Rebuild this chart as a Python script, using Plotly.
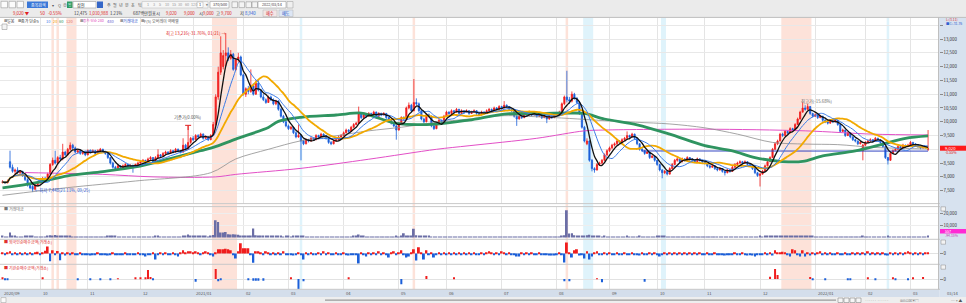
import pandas as pd
import plotly.graph_objects as go

W, H = 966, 303
FONT = "Noto Sans CJK KR, Noto Sans, DejaVu Sans, sans-serif"
UP = "#f01d1d"
DN = "#1b5fd9"

# ---------------- data ----------------
holidays = ["2020-09-30", "2020-10-01", "2020-10-02", "2020-10-09", "2020-12-25", "2020-12-31",
            "2021-01-01", "2021-02-11", "2021-02-12", "2021-03-01", "2021-05-05", "2021-05-19",
            "2021-08-16", "2021-09-20", "2021-09-21", "2021-09-22", "2021-10-04", "2021-10-11",
            "2021-12-31", "2022-01-31", "2022-02-01", "2022-02-02", "2022-03-01", "2022-03-09"]
dates = [d for d in pd.bdate_range("2020-09-09", "2022-03-14") if d.strftime("%Y-%m-%d") not in holidays]

opens = [
    7800, 7820, 7780, 8550, 8350, 8200, 8250, 8150, 8200, 8050,
    7900, 7700, 7650, 7550, 7700, 7800, 7850, 7950, 7900, 8100,
    8450, 8600, 8500, 8700, 8650, 8900, 8800, 9000, 9150, 9050,
    8900, 8950, 8850, 8900, 8800, 8950, 8900, 8950, 8850, 8950,
    9000, 8900, 8850, 8700, 8500, 8350, 8300, 8400, 8350, 8400,
    8450, 8380, 8420, 8350, 8450, 8500, 8550, 8600, 8500, 8650,
    8700, 8550, 8700, 8800, 8750, 8850, 8900, 8850, 8950, 8900,
    9000, 8950, 8900, 9150, 9000, 9250, 9400, 9350, 9500, 9450,
    9550, 9400, 9450, 9350, 9500, 9900, 10900, 11800, 12000, 12400,
    12500, 12300, 12450, 11900, 12250, 12350, 11700, 11000, 11200, 11100,
    11300, 11000, 11400, 11150, 10900, 10800, 10700, 10900, 10800, 10650,
    10750, 10450, 10200, 10000, 9850, 9750, 9800, 9600, 9450, 9500,
    9300, 9200, 9350, 9300, 9400, 9350, 9500, 9450, 9550, 9500,
    9400, 9250, 9200, 9300, 9350, 9450, 9500, 9600, 9700, 9650,
    9800, 9900, 9950, 10300, 10150, 10250, 10200, 10300, 10250, 10350,
    10200, 10300, 10250, 10300, 10150, 10050, 9950, 9850, 9700, 9950,
    10150, 10100, 10500, 10600, 10400, 10700, 10650, 10400, 10100, 10000,
    10250, 10200, 9850, 9750, 9900, 10050, 10000, 10200, 10350, 10300,
    10400, 10350, 10450, 10300, 10400, 10350, 10400, 10300, 10350, 10400,
    10300, 10250, 10350, 10300, 10400, 10450, 10400, 10500, 10450, 10550,
    10500, 10600, 10550, 10450, 10400, 10200, 10100, 10200, 10150, 10300,
    10250, 10350, 10250, 10300, 10200, 10250, 10150, 10200, 10100, 10200,
    10150, 10250, 10300, 10350, 10650, 10900, 10800, 10750, 11000, 10850,
    10700, 10300, 9800, 9200, 9300, 8600, 8300, 8250, 8450, 8500,
    8600, 8800, 8950, 9050, 9150, 9200, 9300, 9250, 9350, 9400,
    9500, 9450, 9550, 9400, 9200, 9000, 8950, 8850, 8900, 8700,
    8750, 8600, 8450, 8250, 8150, 8200, 8100, 8300, 8450, 8600,
    8650, 8550, 8650, 8600, 8700, 8650, 8600, 8550, 8650, 8600,
    8550, 8500, 8400, 8350, 8400, 8300, 8250, 8300, 8200, 8150,
    8250, 8200, 8350, 8450, 8500, 8550, 8500, 8550, 8450, 8400,
    8300, 8150, 8050, 8100, 8200, 8400, 8550, 8700, 9000, 9200,
    9300, 9550, 9500, 9650, 9600, 9750, 9700, 9900, 10100, 10350,
    10500, 10450, 10550, 10300, 10200, 10250, 10150, 10200, 10050, 10000,
    9950, 10050, 10000, 10050, 9900, 9650, 9700, 9500, 9600, 9450,
    9350, 9300, 9200, 8950, 9150, 9250, 9300, 9350, 9300, 9400,
    9350, 9250, 9100, 8700, 8600, 8850, 8950, 9000, 9100, 9050,
    9150, 9100, 9150, 9250, 9200, 9150, 9100, 9050, 9100, 9000,
]
highs = [
    7880, 7850, 7900, 8950, 8450, 8300, 8350, 8250, 8220, 8100,
    7950, 7750, 7700, 7750, 7850, 7900, 8000, 8000, 8150, 8500,
    8700, 8950, 8750, 8800, 9200, 8950, 9050, 9250, 9200, 9100,
    9000, 9000, 8950, 8950, 9000, 9000, 9000, 8980, 9000, 9050,
    9020, 8950, 8880, 8720, 8550, 8400, 8450, 8420, 8450, 8500,
    8470, 8450, 8440, 8480, 8550, 8600, 8650, 8620, 8700, 8750,
    8720, 8750, 9000, 8830, 8900, 8950, 8930, 9000, 8980, 9050,
    9030, 8980, 9400, 9200, 9850, 9450, 9480, 9550, 9550, 9600,
    9580, 9500, 9480, 9550, 10000, 11000, 12000, 13100, 12600, 13216,
    12700, 12600, 12500, 12300, 12500, 12400, 11750, 11250, 11300, 11900,
    11400, 11500, 11550, 11200, 11000, 10850, 10950, 10950, 10850, 10800,
    10780, 10500, 10250, 10050, 9900, 9850, 9820, 9650, 9900, 9550,
    9350, 9400, 9380, 9450, 9420, 9550, 9530, 9600, 9580, 9520,
    9420, 9300, 9350, 9400, 9500, 9550, 9650, 9750, 9730, 9850,
    9950, 10000, 10550, 10350, 10300, 10280, 10350, 10330, 10400, 10370,
    10350, 10330, 10350, 10320, 10180, 10080, 9980, 9880, 10000, 10200,
    10200, 10550, 10700, 10650, 11550, 10850, 10700, 10450, 10150, 10300,
    10300, 10220, 9900, 9950, 10100, 10080, 10250, 10400, 10380, 10450,
    10430, 10500, 10470, 10450, 10420, 10450, 10420, 10400, 10450, 10420,
    10320, 10400, 10380, 10450, 10500, 10480, 10550, 10530, 10600, 10580,
    10750, 10630, 10570, 10480, 10420, 10250, 10250, 10230, 10350, 10330,
    10400, 10370, 10350, 10320, 10300, 10270, 10250, 10220, 10250, 10230,
    10300, 10350, 10400, 10700, 10950, 11850, 10900, 11100, 11050, 10900,
    10750, 10350, 9850, 9400, 9320, 8650, 8350, 8500, 8550, 8650,
    8850, 9000, 9100, 9200, 9250, 9350, 9330, 9400, 9450, 9650,
    9530, 9600, 9570, 9420, 9220, 9050, 8980, 8950, 8920, 8800,
    8770, 8620, 8470, 8280, 8250, 8230, 8350, 8500, 8650, 8700,
    8670, 8700, 8680, 8750, 8720, 8680, 8630, 8700, 8680, 8630,
    8580, 8520, 8430, 8450, 8420, 8330, 8350, 8320, 8230, 8300,
    8280, 8400, 8500, 8550, 8600, 8580, 8600, 8570, 8480, 8420,
    8320, 8180, 8150, 8250, 8450, 8600, 8750, 9050, 9250, 9350,
    9600, 9600, 9700, 9680, 9800, 9780, 9950, 10150, 10400, 10700,
    10600, 10650, 10570, 10330, 10300, 10270, 10250, 10220, 10100, 10030,
    10100, 10070, 10100, 10070, 9920, 9750, 9720, 9650, 9620, 9480,
    9380, 9320, 9300, 9200, 9300, 9350, 9400, 9370, 9450, 9420,
    9370, 9270, 9120, 8720, 8900, 9000, 9050, 9150, 9120, 9200,
    9170, 9200, 9300, 9270, 9220, 9170, 9120, 9150, 9120, 9700,
]
lows = [
    7760, 7740, 7770, 8300, 8150, 8050, 8100, 8100, 8000, 7850,
    7650, 7550, 7448, 7520, 7650, 7750, 7800, 7850, 7880, 8080,
    8400, 8450, 8450, 8600, 8600, 8750, 8780, 8950, 9000, 8850,
    8850, 8800, 8800, 8750, 8780, 8850, 8880, 8800, 8830, 8920,
    8880, 8800, 8650, 8450, 8300, 8250, 8280, 8300, 8330, 8380,
    8350, 8350, 8150, 8330, 8420, 8480, 8530, 8480, 8480, 8620,
    8500, 8530, 8680, 8700, 8730, 8820, 8800, 8830, 8850, 8880,
    8900, 8850, 8880, 8950, 8980, 9200, 9300, 9330, 9400, 9430,
    9350, 9380, 9300, 9330, 9480, 9850, 10800, 11700, 11900, 12000,
    12200, 12250, 11850, 11850, 12150, 11650, 10950, 10900, 11000, 11050,
    10950, 10980, 11100, 10850, 10750, 10650, 10680, 10750, 10600, 10600,
    10400, 10150, 9950, 9800, 9700, 9700, 9550, 9400, 9420, 8600,
    9150, 9180, 9250, 9280, 9300, 9330, 9400, 9430, 9450, 9350,
    9200, 9150, 9180, 9280, 9330, 9420, 9480, 9580, 9600, 9630,
    9780, 9870, 9930, 10100, 10130, 10150, 10180, 10200, 10230, 10150,
    10180, 10200, 10230, 10100, 10000, 9900, 9800, 9350, 9680, 9930,
    10050, 10080, 10450, 10350, 10380, 10600, 10350, 10050, 9950, 9980,
    10150, 9800, 9700, 9730, 9880, 9950, 9980, 10180, 10250, 10280,
    10300, 10330, 10250, 10280, 10300, 10330, 10250, 10280, 10330, 10250,
    10200, 10230, 10250, 10280, 10380, 10350, 10380, 10400, 10430, 10450,
    10480, 10500, 10400, 10350, 10150, 9850, 10080, 10100, 10130, 10200,
    10230, 10200, 10230, 10150, 10180, 10100, 10130, 9950, 10080, 10100,
    10130, 10230, 10280, 10330, 10600, 10700, 10650, 10700, 10800, 10650,
    10250, 9750, 9250, 9150, 8550, 8200, 8150, 8230, 8400, 8450,
    8580, 8750, 8900, 9000, 9100, 9150, 9200, 9230, 9300, 9380,
    9400, 9430, 9350, 9150, 8950, 8900, 8800, 8830, 8650, 8680,
    8550, 8400, 8200, 7950, 8100, 8050, 8080, 8280, 8430, 8550,
    8500, 8530, 8550, 8580, 8600, 8550, 8500, 8530, 8550, 8500,
    8450, 8350, 8300, 8330, 8250, 8200, 8230, 8150, 8050, 8130,
    8150, 8180, 8330, 8430, 8480, 8450, 8480, 8400, 8350, 8250,
    8100, 8000, 7650, 8080, 8180, 8380, 8530, 8680, 8980, 9150,
    9280, 9450, 9480, 9550, 9580, 9650, 9680, 9880, 10080, 10330,
    10400, 10430, 10250, 10150, 10180, 10100, 10130, 10000, 9950, 9900,
    9930, 9950, 9980, 9850, 9600, 9630, 9450, 9480, 9400, 9300,
    9250, 9150, 9180, 8600, 9130, 9230, 9280, 9250, 9280, 9300,
    9200, 9050, 8650, 8450, 8580, 8830, 8930, 8980, 9000, 9030,
    9050, 9080, 9130, 9150, 9100, 9050, 9000, 9030, 9030, 8940,
]
closes = [
    7820, 7780, 7850, 8350, 8200, 8250, 8150, 8200, 8050, 7900,
    7700, 7600, 7550, 7700, 7800, 7850, 7950, 7900, 8100, 8450,
    8600, 8500, 8700, 8650, 8900, 8800, 9000, 9150, 9050, 8900,
    8950, 8850, 8900, 8800, 8950, 8900, 8950, 8850, 8950, 9000,
    8900, 8850, 8700, 8500, 8350, 8300, 8400, 8350, 8400, 8450,
    8380, 8420, 8350, 8450, 8500, 8550, 8600, 8500, 8650, 8700,
    8550, 8700, 8800, 8750, 8850, 8900, 8850, 8950, 8900, 9000,
    8950, 8900, 9150, 9000, 9250, 9400, 9350, 9500, 9450, 9550,
    9400, 9450, 9350, 9500, 9900, 10900, 11800, 12500, 12400, 12500,
    12300, 12450, 11900, 12250, 12350, 11700, 11000, 11200, 11100, 11300,
    11000, 11400, 11150, 10900, 10800, 10700, 10900, 10800, 10650, 10750,
    10450, 10200, 10000, 9850, 9750, 9800, 9600, 9450, 9500, 9300,
    9200, 9350, 9300, 9400, 9350, 9500, 9450, 9550, 9500, 9400,
    9250, 9200, 9300, 9350, 9450, 9500, 9600, 9700, 9650, 9800,
    9900, 9950, 10300, 10150, 10250, 10200, 10300, 10250, 10350, 10200,
    10300, 10250, 10300, 10150, 10050, 9950, 9850, 9700, 9950, 10150,
    10100, 10500, 10600, 10400, 10700, 10650, 10400, 10100, 10000, 10250,
    10200, 9850, 9750, 9900, 10050, 10000, 10200, 10350, 10300, 10400,
    10350, 10450, 10300, 10400, 10350, 10400, 10300, 10350, 10400, 10300,
    10250, 10350, 10300, 10400, 10450, 10400, 10500, 10450, 10550, 10500,
    10600, 10550, 10450, 10400, 10200, 10100, 10200, 10150, 10300, 10250,
    10350, 10250, 10300, 10200, 10250, 10150, 10200, 10100, 10200, 10150,
    10250, 10300, 10350, 10650, 10900, 10800, 10750, 11000, 10850, 10700,
    10300, 9800, 9300, 9300, 8600, 8300, 8250, 8450, 8500, 8600,
    8800, 8950, 9050, 9150, 9200, 9300, 9250, 9350, 9400, 9500,
    9450, 9550, 9400, 9200, 9000, 8950, 8850, 8900, 8700, 8750,
    8600, 8450, 8250, 8150, 8200, 8100, 8300, 8450, 8600, 8650,
    8550, 8650, 8600, 8700, 8650, 8600, 8550, 8650, 8600, 8550,
    8500, 8400, 8350, 8400, 8300, 8250, 8300, 8200, 8150, 8250,
    8200, 8350, 8450, 8500, 8550, 8500, 8550, 8450, 8400, 8300,
    8150, 8050, 8100, 8200, 8400, 8550, 8700, 9000, 9200, 9300,
    9550, 9500, 9650, 9600, 9750, 9700, 9900, 10100, 10350, 10500,
    10450, 10550, 10300, 10200, 10250, 10150, 10200, 10050, 10000, 9950,
    10050, 10000, 10050, 9900, 9650, 9700, 9500, 9600, 9450, 9350,
    9300, 9200, 9250, 9150, 9250, 9300, 9350, 9300, 9400, 9350,
    9250, 9100, 8700, 8600, 8850, 8950, 9000, 9100, 9050, 9150,
    9100, 9150, 9250, 9200, 9150, 9100, 9050, 9100, 9070, 9020,
]
volumes = [
    900, 700, 800, 4300, 1500, 1000, 800, 700, 700, 900,
    1200, 1000, 1300, 800, 700, 600, 700, 600, 1000, 2000,
    1800, 2200, 1500, 1200, 1600, 900, 1000, 1100, 800, 700,
    700, 600, 800, 700, 600, 700, 800, 600, 700, 600,
    700, 800, 900, 1000, 1700, 1100, 800, 700, 600, 700,
    600, 700, 800, 600, 700, 600, 800, 700, 600, 700,
    800, 900, 1000, 700, 600, 700, 800, 600, 700, 800,
    700, 700, 1500, 1800, 2500, 1400, 1000, 900, 1200, 1000,
    900, 1100, 800, 1000, 2200, 14500, 13000, 4300, 4300, 4600,
    2800, 2600, 2700, 2500, 2300, 1800, 1700, 1500, 1400, 1800,
    7700, 2000, 1500, 1800, 1200, 1000, 1100, 900, 1000, 900,
    1000, 900, 800, 900, 1000, 800, 900, 1000, 1100, 1500,
    900, 800, 700, 800, 700, 600, 700, 800, 700, 600,
    700, 800, 700, 600, 700, 800, 700, 600, 700, 800,
    900, 1000, 2600, 1300, 900, 800, 700, 800, 700, 600,
    700, 800, 700, 600, 700, 800, 700, 900, 800, 1200,
    3700, 1800, 1500, 1200, 7400, 2000, 1500, 1400, 1000, 1300,
    900, 800, 700, 800, 700, 600, 700, 800, 700, 600,
    700, 600, 700, 800, 600, 700, 600, 700, 600, 700,
    600, 700, 600, 700, 800, 700, 600, 700, 800, 700,
    800, 700, 600, 700, 800, 700, 600, 700, 600, 700,
    600, 700, 600, 500, 600, 700, 600, 700, 600, 700,
    600, 700, 800, 1200, 2000, 23000, 3400, 3600, 2000, 1500,
    1400, 1500, 1800, 2000, 2400, 1600, 1200, 1000, 900, 800,
    900, 800, 700, 800, 700, 600, 700, 800, 700, 900,
    700, 600, 700, 800, 900, 700, 600, 700, 600, 700,
    800, 900, 1000, 1200, 900, 800, 700, 800, 700, 600,
    700, 600, 700, 600, 500, 600, 700, 600, 500, 600,
    600, 700, 600, 500, 600, 500, 600, 700, 600, 700,
    600, 700, 800, 700, 600, 700, 600, 500, 600, 700,
    800, 700, 900, 800, 900, 1000, 1100, 1200, 1300, 1200,
    1500, 1400, 1300, 1200, 1100, 1200, 1300, 1200, 1400, 1500,
    1300, 1200, 1400, 900, 800, 700, 600, 700, 600, 500,
    600, 500, 600, 700, 800, 700, 600, 700, 600, 500,
    600, 700, 600, 900, 700, 600, 500, 600, 500, 600,
    500, 600, 800, 900, 700, 600, 500, 600, 500, 600,
    500, 600, 500, 600, 500, 600, 500, 600, 700, 1200,
]
foreign_net = [
    1, -1, 1, 2, -1, 1, -1, 1, -1, 1,
    -1, 1, -1, 1, 1.7, -1, 1, 2.7, 6.7, -7.7,
    3, -1, 2.3, -6.7, 1, -2, 1, -1.5, 1, -1,
    -1, 1, -1, -1.5, -1, -2, -1, -1, 1, -1,
    -1.5, -1, -2, -1, 1, -1, -1.5, -1, -1, 1,
    -1, -1, -1.5, -1, 1, -1, -1.5, -3, -1, -1,
    1, -6, -1, 1, -1, 1, -1, -1, 1, -1.5,
    -3, 1, 3, 1, 2, 2, 1, 2, 1, -1,
    1, 2, 1, -1, -3, 1, 4, 4, 4, 4.5,
    4, 3, -1, -5, 2, 10, 5, 5, 5, -1,
    -9.3, 2, 2, 1, -1, 2, 1, -1.5, 1, -1,
    1, -1, 2, -1, -1.5, -1, -2, -1, 1, -1,
    -6, 1, -1, 1, -1, -1.5, 1, -1, 2, -1,
    1, -1, -1, 1, -1, -1.5, 1, -1, -2, -1,
    -1, -1, -10, 1, -1, -3, 1, -1, 1, -1,
    2, -1, 1, -1, -4, 1, 2, -1, 1, 3,
    -1, -4, -3, 1, 4, -7, 6, 1, -6, 3,
    -1, 1, -4, -1, 1, -1, 1, -1, 1, -1,
    1, -1, 1, -1, 1, -1, 1, -1, 1, -1,
    -1, 1, -1, 1, 2, 1, -1, 1, -1, 2,
    1, -1, 1, -1, -1, -3, -3, 1, -1, 1,
    -1, 1, -1, -1, 1, -1, -1, -1.5, -2, -2,
    -2, -1, 1, -1, -9, 10.7, 1, -4, 3, 4,
    -2, -1, -5, 2, -6, -3, 1, 2, -1, -1,
    1, -1, 1, -1, -1, 1, -1, -1, 1, -1,
    -1, 1, -1, -1, -2, 1, -1, -1, 1, -1,
    1, -1, -3, -1, 1, -1, 1, -1, 1, -1,
    1, -1, 1, -1, 1, -1, 1, -1, 1, -1,
    -1, 1, -1, -1, 1, -1, -1.5, -1, -2, -1,
    -1.5, -1, 1, -1, -1, 1, -1.5, -2, -1, -2,
    -3, -1, -1, -1, 1, -1, 1, -2, 3, 1,
    1, 1.5, 1, -1, -3, 4, 3, -1, -3, 3,
    -3, 1, -2, 1, -1, 1, 2, -1, 1, -1,
    1, -1, -1, 1, -1, -1.5, 1, -1, -1, 1,
    -1, 1, -1, 1, -1, 2, -1, 1, -1, 1,
    -1, 1, -1, -2, 1, -1, 1, -1, 1, -1,
    1, 2, 1, -1, 1, -1, 1, -1, 1, 1,
]
inst_idx = [0, 1, 2, 16, 30, 35, 39, 43, 46, 53, 55, 57, 58, 59, 60, 77, 85, 86, 87, 98,
            100, 101, 102, 104, 115, 118, 120, 138, 159, 169, 180, 224, 226, 237, 239, 256,
            306, 308, 309, 322, 323, 328, 337, 338, 345, 348, 355, 356, 361, 363, 367]
inst_val = [1, -1, -1, 1, -1, -1, -1, -1, 0.5, 1.5, 1.5, 1.5, 9, 2, -1, -2.7, 10, -2, -1, -1,
            -1.5, -1.5, -1.5, -1.5, 1, -10, -2, 1, -5, 3, 1, -2, -2, 0.5, -3, -2.5,
            2.3, 10, 4, 2, -1, -1, -1, -1, 1, -1, 1, -1, -1, 1, 2]

ma60_idx = [0, 13, 26, 40, 53, 66, 79, 84, 93, 106, 110, 119, 133, 143, 147, 153, 157, 173, 186,
            200, 213, 226, 232, 240, 253, 266, 280, 291, 300, 311, 319, 327, 340, 351, 360, 369]
ma60_val = [7600, 7780, 8040, 8190, 8360, 8640, 8950, 9070, 9370, 9795, 10013, 10160, 10245, 10317,
            10220, 10038, 9940, 9916, 10062, 10280, 10300, 10317, 10300, 10100, 9890, 9550, 9130,
            8945, 8700, 8556, 8560, 8760, 8945, 9190, 9400, 9490]
ma120_idx = [0, 26, 53, 83, 93, 106, 119, 133, 146, 159, 173, 186, 200, 213, 226, 240, 253, 266,
             280, 293, 307, 320, 333, 347, 360, 369]
ma120_val = [7330, 7610, 7850, 8150, 8650, 9000, 9310, 9490, 9670, 9800, 9980, 10100, 10220, 10180,
             10120, 10040, 9980, 9920, 9780, 9550, 9250, 9190, 9170, 9070, 9030, 9010]
ma240_idx = [9, 40, 60, 85, 93, 119, 146, 173, 186, 213, 232, 240, 280, 320, 347, 369]
ma240_val = [8155, 8090, 8000, 8000, 8090, 8310, 8640, 9000, 9130, 9400, 9670, 9700, 9730, 9670,
             9550, 9520]
ma480_idx = [255, 369]
ma480_val = [8940, 8935]

red_bands = [(20, 20), (22, 22), (26, 29), (84, 93), (164, 164), (225, 225), (311, 322)]
blue_bands = [(119, 119), (232, 235), (263, 264), (353, 353)]

N = len(dates)
for arr in (opens, highs, lows, closes, volumes, foreign_net):
    assert len(arr) == N, (len(arr), N)
x = list(range(N))

cs = pd.Series(closes, dtype=float)
ma5 = cs.rolling(5, min_periods=1).mean()
ma10 = cs.rolling(10, min_periods=1).mean()
ma20 = cs.rolling(20, min_periods=1).mean()

month_pos, month_lab = [], []
prev = None
for i, d in enumerate(dates):
    key = (d.year, d.month)
    if key != prev:
        month_pos.append(i)
        month_lab.append(d.strftime("%Y/%m") if (i == 0 or d.month == 1) else d.strftime("%m"))
        prev = key

# ---------------- helpers ----------------
shapes, annos = [], []


def px(v):
    return v / W


def py(v):
    return 1 - v / H


def rect(x0, y0, x1, y1, fill, line=None, lw=0.6, layer="below"):
    shapes.append(dict(type="rect", xref="paper", yref="paper", x0=px(x0), x1=px(x1),
                       y0=py(y1), y1=py(y0), fillcolor=fill,
                       line=dict(color=line or fill, width=lw if line else 0), layer=layer))


def hline(x0, x1, y, color, w=1, layer="above"):
    shapes.append(dict(type="line", xref="paper", yref="paper", x0=px(x0), x1=px(x1),
                       y0=py(y), y1=py(y), line=dict(color=color, width=w), layer=layer))


def text(xx, yy, s, color="#333", size=4.5, anchor="left"):
    annos.append(dict(xref="paper", yref="paper", x=px(xx), y=py(yy), text=s, showarrow=False,
                      xanchor=anchor, yanchor="middle",
                      font=dict(family=FONT, size=size, color=color)))


# ---------------- figure ----------------
fig = go.Figure()

fig.add_trace(go.Candlestick(
    x=x, open=opens, high=highs, low=lows, close=closes,
    increasing=dict(line=dict(color=UP, width=0.8), fillcolor=UP),
    decreasing=dict(line=dict(color=DN, width=0.8), fillcolor=DN),
    whiskerwidth=0, xaxis="x", yaxis="y", hoverinfo="skip"))


def sline(xs, ys, color, w, spline=True):
    fig.add_trace(go.Scatter(x=xs, y=ys, mode="lines", xaxis="x", yaxis="y", hoverinfo="skip",
                             line=dict(color=color, width=w, shape="spline" if spline else "linear",
                                       smoothing=0.9)))


sline(ma240_idx, ma240_val, "#e24fc6", 1)
sline(ma120_idx, ma120_val, "#8e8e8e", 0.8)
sline(ma480_idx, ma480_val, "#3346c2", 1, spline=False)
sline(ma60_idx, ma60_val, "#2f9460", 2.8)
sline(x, ma20, "#f2a900", 1.8)
sline(x, ma10, "#3b7be6", 1)
sline(x, ma5, "#111111", 1.3)

fig.add_trace(go.Bar(x=x, y=volumes, marker=dict(color="#6b6ea6", line=dict(width=0)), width=0.7,
                     xaxis="x2", yaxis="y2", hoverinfo="skip"))
fig.add_trace(go.Bar(x=x, y=foreign_net, width=0.75,
                     marker=dict(color=[UP if v > 0 else DN for v in foreign_net], line=dict(width=0)),
                     xaxis="x3", yaxis="y3", hoverinfo="skip"))
fig.add_trace(go.Bar(x=inst_idx, y=inst_val, width=0.8,
                     marker=dict(color=[UP if v > 0 else DN for v in inst_val], line=dict(width=0)),
                     xaxis="x4", yaxis="y4", hoverinfo="skip"))

# event bands
for (a, b), col in [(bd, "#fde2d9") for bd in red_bands] + [(bd, "#dff3fb") for bd in blue_bands]:
    shapes.append(dict(type="rect", xref="x", yref="paper", x0=a - 0.5, x1=b + 0.5,
                       y0=py(289), y1=py(17.5), fillcolor=col, line=dict(width=0), layer="below"))

# toolbar
rect(0, 0, 966, 17.3, "#ebebeb")
hline(0, 966, 17.4, "#bdbdbd", 1)
for xx in (1, 9, 17):
    rect(xx, 1.3, xx + 6.5, 7.8, "#fbfbfb", "#9a9a9a", 0.6, "above")
rect(27, 1.5, 48, 8, "#3b78d8", layer="above")
text(29, 4.7, "종목검색", "#ffffff", 4)
text(50, 4.7, "▾", "#555", 4)
text(55.5, 4.7, "Q", "#555", 4)
text(61, 4.7, "⊕", "#555", 4)
rect(67, 1.5, 72.5, 8, "#2c9a63", layer="above")
text(69.75, 4.7, "일", "#ffffff", 3.6, "center")
rect(73, 1.5, 96, 8, "#ffffff", "#a0a0a0", 0.6, "above")
text(75, 4.7, "삼천", "#222", 4.2)
rect(97, 1.5, 103, 8, "#3567c8", layer="above")
for i, s in enumerate(["주", "월", "년", "분", "초", "틱"]):
    text(104.5 + i * 6.2, 4.7, s, "#555", 4)
rect(142, 1.5, 208, 8, "#f6f6f6", "#c4c4c4", 0.6, "above")
for xx, s in zip([145, 151, 157, 163, 169.5, 176, 182.5, 189], ["1", "3", "5", "10", "15", "30", "60", "120"]):
    text(xx, 4.7, s, "#9a9a9a", 3.8)
rect(197, 2, 203, 7.5, "#ffffff", "#aaaaaa", 0.5, "above")
text(200, 4.7, "1", "#333", 3.8, "center")
text(204, 4.7, "▾", "#555", 3.6)
rect(210, 1.5, 229, 8, "#ffffff", "#a0a0a0", 0.6, "above")
text(219.5, 4.7, "370/500", "#333", 3.8, "center")
for xx in (232, 239, 246, 252):
    rect(xx, 1.8, xx + 5.5, 7.6, "#f4f4f4", "#8a8a8a", 0.5, "above")
rect(258, 1.5, 286, 8, "#ffffff", "#a0a0a0", 0.6, "above")
text(272, 4.7, "2022/03/14", "#333", 3.8, "center")
rect(287, 1.5, 293, 8, "#f0f0f0", "#999999", 0.5, "above")

row2 = [(11, "9,020 ▼", "#e02020"), (38, "50", "#e02020"), (46, "-0.55%", "#e02020"),
        (72, "12,475", "#333"), (87, "1,010,988", "#e02020"), (108, "1.21%", "#333"),
        (131, "687백만", "#333"), (146, "원표시", "#333"), (164, "9,020", "#e02020"),
        (182, "9,000", "#e02020"), (197, "시", "#333"), (201, "9,000", "#e02020"),
        (214, "고", "#333"), (219, "9,700", "#e02020"), (238, "저", "#333"), (243, "8,940", "#1d5fd8")]
for xx, s, c in row2:
    text(xx, 13.2, s, c, 4.3)
rect(263, 10, 277, 16.6, "#f3e6e6", "#b0b0b0", 0.5, "above")
text(270, 13.3, "매수", "#d02020", 4.2, "center")
rect(279, 10, 293, 16.6, "#dde6f5", "#b0b0b0", 0.5, "above")
text(286, 13.3, "매도", "#2050c0", 4.2, "center")

# legend row
leg = [(2, "■", "#9a9a9a", 3.5), (5, "일봉", "#333", 4.0), (16, "■", "#9a9a9a", 3.5),
       (19, "종가 단순5", "#333", 4.0), (44, "10", "#3b7be6", 4.0), (50.5, "20", "#f0a000", 4.0),
       (57, "60", "#2f9460", 4.0), (63.5, "120", "#e0706a", 4.0), (78, "■", "#9a9a9a", 3.5),
       (81, "종가 단순 240", "#e040b8", 3.6), (104.5, "480", "#6a5cd0", 4.0),
       (118, "■", "#9a9a9a", 3.5), (121, "거래대금", "#3355cc", 4.0),
       (139, "■", "#9a9a9a", 3.5), (142, "F(5) 오버레이 역배열", "#555", 4.0)]
for xx, s, c, sz in leg:
    text(xx, 20.6, s, c, sz)
rect(2, 24, 7, 29.5, "#f4f4f4", "#888888", 0.5, "above")

# panel labels
text(2, 209, "■ 거래대금", "#777", 4)
text(2, 242.3, "■ 외국인순매수금액(거래소)", "#e03030", 4)
text(2, 267.6, "■ 기관순매수금액(거래소)", "#e03030", 4)

# separators
for yy in (203.6, 206.6, 239.3, 264.3, 289.3):
    hline(0, 940, yy, "#c9c9c9", 1)
shapes.append(dict(type="line", xref="paper", yref="paper", x0=px(938.6), x1=px(938.6),
                   y0=py(289.3), y1=py(17.5), line=dict(color="#b9b9b9", width=1), layer="above"))

# right strip
rect(939.2, 17.5, 966, 297, "#d7e2ef")
text(944, 19.6, "L:(3.11)", "#e03030", 3.4)
text(944, 23.2, "■C:-31.76", "#3060d0", 3.4)
rect(940, 145.7, 966, 150.7, "#ff1a1a", layer="above")
text(942.5, 148.2, "9,020", "#ffffff", 4.2)
text(942.5, 152.8, "-0.55%", "#e02020", 3.6)
rect(940, 229, 966, 233.5, "#ff2ad4", layer="above")
text(942.5, 231.3, "557", "#ffffff", 3.6)
text(942.5, 235.6, "-94.15%", "#c040b0", 3.4)
for yy in (206.8, 240, 265):
    rect(941, yy, 945.5, yy + 4.2, "#f3f3f3", "#8a8a8a", 0.5, "above")

# x strip and labels
rect(0, 289.3, 939.2, 297, "#d4deeb")
for pos, lab in zip(month_pos, month_lab):
    annos.append(dict(xref="x", yref="paper", x=pos if pos > 0 else -0.6, y=py(293.2), text=lab,
                      showarrow=False, xanchor="left", yanchor="middle", xshift=0.6,
                      font=dict(family=FONT, size=4.2, color="#555")))
text(945, 293.2, "03/14", "#555", 4.2)

# scrollbar
rect(0, 297, 966, 303, "#eeeeee")
rect(1, 297.6, 6, 302.6, "#fafafa", "#999999", 0.5, "above")
hline(325, 836, 300.1, "#9a9a9a", 1.2)
for xx in (838, 844, 850, 856):
    rect(xx, 298, xx + 5, 302.5, "#f6f6f6", "#777777", 0.5, "above")
text(863, 300.2, "······ ······", "#888", 3.4)
text(898, 300.2, "⊞⊟⊡⊠▣▤", "#777", 3.4)
text(949, 300.2, "─ + ▲", "#555", 3.8)

# price annotations
def pann(xx, yy, s, color, anchor):
    annos.append(dict(xref="x", yref="y", x=xx, y=yy, text=s, showarrow=False, xanchor=anchor,
                      yanchor="middle", font=dict(family=FONT, size=4.3, color=color)))


pann(89.8, 13216, "최고 13,216(-31.76%, 01/21) →", "#e02020", "right")
pann(12, 7490, "←최저 7,448(21.11%, 09/25)", "#2a55d0", "left")
pann(74, 10161, "기준가(0.00%)", "#555", "center")
pann(317.5, 10743, "최고가(-15.68%)", "#666", "left")
shapes.append(dict(type="line", xref="x", yref="y", x0=72.8, x1=75.2, y0=9870, y1=9870,
                   line=dict(color="#e02020", width=1), layer="above"))
shapes.append(dict(type="line", xref="x", yref="y", x0=74, x1=74, y0=9870, y1=9700,
                   line=dict(color="#e02020", width=1), layer="above"))

# ---------------- axes ----------------
xcommon = dict(range=[-1, 373.2], showgrid=True, gridcolor="#e4e4e4", gridwidth=1,
               tickvals=month_pos[1:], showticklabels=False, ticks="", zeroline=False,
               showline=False, domain=[0, 938.6 / W], fixedrange=True)
tick_font = dict(family=FONT, size=4.4, color="#333")
pvals = list(range(7000, 14000, 500))
ptext = [f"{v:,}" if 7500 <= v <= 13000 and v != 9000 else "" for v in pvals]

fig.update_layout(
    width=W, height=H, margin=dict(l=0, r=0, t=0, b=0),
    paper_bgcolor="white", plot_bgcolor="rgba(0,0,0,0)", showlegend=False, hovermode=False,
    font=dict(family=FONT, size=5),
    xaxis=dict(**xcommon, anchor="y", rangeslider=dict(visible=False)),
    xaxis2=dict(**xcommon, anchor="y2", matches="x"),
    xaxis3=dict(**xcommon, anchor="y3", matches="x"),
    xaxis4=dict(**xcommon, anchor="y4", matches="x"),
    yaxis=dict(domain=[py(203.6), py(17.5)], range=[7030, 13783], side="right", anchor="x",
               tickvals=pvals, ticktext=ptext, showgrid=True, gridcolor="#e8e8e8",
               ticks="outside", ticklen=3, tickcolor="#8a8a8a", tickfont=tick_font,
               zeroline=False, showline=False, fixedrange=True),
    yaxis2=dict(domain=[py(239.3), py(206.6)], range=[-1450, 26000], side="right", anchor="x2",
                tickvals=[10000, 20000], ticktext=["10,000", "20,000"], showgrid=True,
                gridcolor="#eeeeee", ticks="outside", ticklen=3, tickcolor="#8a8a8a",
                tickfont=tick_font, zeroline=False, showline=False, fixedrange=True),
    yaxis3=dict(domain=[py(264.3), py(239.3)], range=[-10.7, 13.8], side="right", anchor="x3",
                tickvals=[0], ticktext=["0"], showgrid=False, ticks="outside", ticklen=3,
                tickcolor="#8a8a8a", tickfont=tick_font, zeroline=True, zerolinecolor="#e2e2e2",
                zerolinewidth=1, showline=False, fixedrange=True),
    yaxis4=dict(domain=[py(289.3), py(264.3)], range=[-10, 14.5], side="right", anchor="x4",
                tickvals=[0], ticktext=["0"], showgrid=False, ticks="outside", ticklen=3,
                tickcolor="#8a8a8a", tickfont=tick_font, zeroline=True, zerolinecolor="#e2e2e2",
                zerolinewidth=1, showline=False, fixedrange=True),
    shapes=shapes, annotations=annos,
)

fig.write_html("out.html")
